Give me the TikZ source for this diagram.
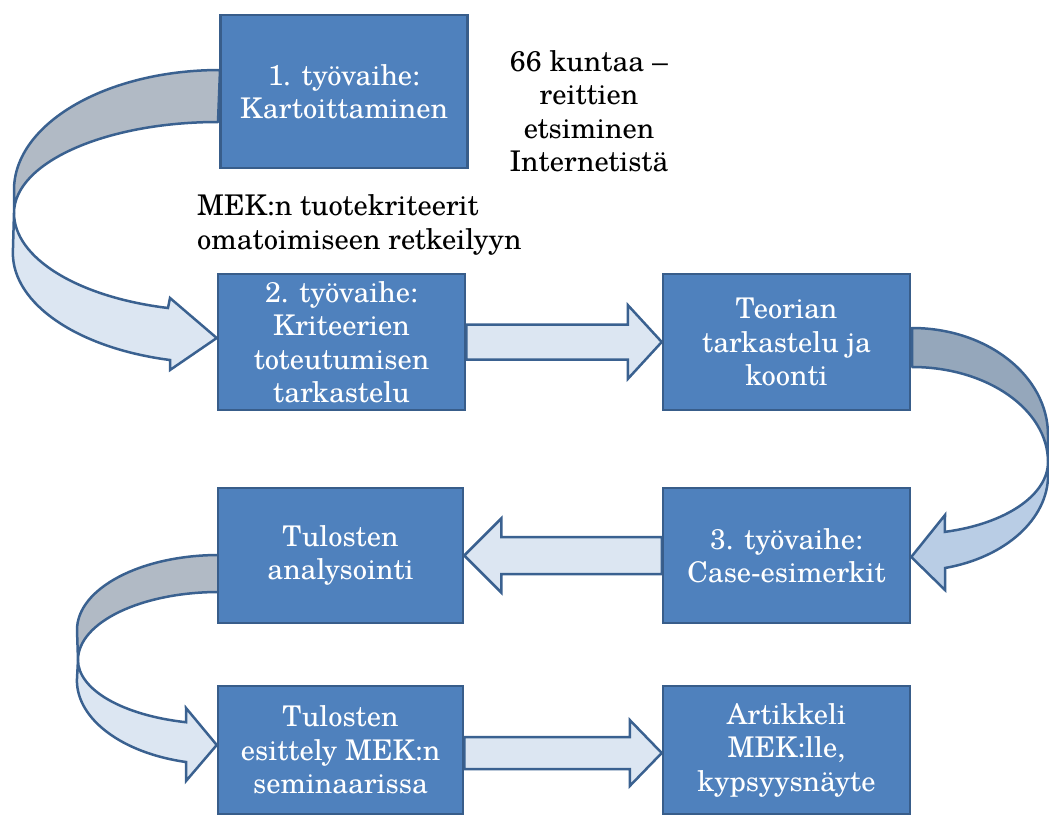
\documentclass[tikz,border=0pt]{standalone}
\usepackage{fontspec}
\setmainfont{TeX Gyre Schola}
\usetikzlibrary{calc}
\pgfdeclarelayer{bg}
\pgfsetlayers{bg,main}
\definecolor{boxfill}{HTML}{4F81BD}
\definecolor{boxline}{HTML}{385D8A}
\definecolor{arrline}{HTML}{3A6190}
\definecolor{lightfill}{HTML}{DCE6F2}
\definecolor{backgray}{HTML}{B1BAC5}
\definecolor{backdark}{HTML}{95A7BB}
\definecolor{midfill}{HTML}{B9CDE5}
\begin{document}
\begin{tikzpicture}[x=1pt,y=-1pt,
  stage/.style={draw=boxline, line width=2.5pt, fill=boxfill, text=white,
    align=center, inner sep=0pt, font=\fontsize{28.5}{33.5}\selectfont},
  note/.style={align=center, inner sep=0pt, font=\fontsize{28.5}{33.5}\selectfont},
  barrow/.style={draw=arrline, line width=2.5pt, fill=lightfill, line join=miter},
  bandback/.style={draw=arrline, line width=2.5pt, fill=backgray, line join=round},
  bandfront/.style={draw=arrline, line width=2.5pt, fill=lightfill, line join=miter}]
\useasboundingbox (0,0) rectangle (1049,816);

% boxes
\node[stage, minimum width=247pt, minimum height=153pt] (b1) at (344,91.5) {1. työvaihe:\\Kartoittaminen};
\node[stage, minimum width=247pt, minimum height=136pt] (b2) at (341.5,342) {2. työvaihe:\\Kriteerien\\toteutumisen\\tarkastelu};
\node[stage, minimum width=247pt, minimum height=136pt] (teo) at (786.5,342) {Teorian\\tarkastelu ja\\koonti};
\node[stage, minimum width=245pt, minimum height=135pt] (ana) at (340.5,555.5) {Tulosten\\analysointi};
\node[stage, minimum width=247pt, minimum height=135pt] (case) at (786.5,555.5) {3. työvaihe:\\Case-esimerkit};
\node[stage, minimum width=245pt, minimum height=128pt] (esit) at (340.5,750) {Tulosten\\esittely MEK:n\\seminaarissa};
\node[stage, minimum width=247pt, minimum height=128pt] (art) at (786.5,750) {Artikkeli\\MEK:lle,\\kypsyysnäyte};

% notes
\node[note] (n1) at (589,111) {66 kuntaa –\\reittien\\etsiminen\\Internetistä};
\node[note, align=left, anchor=west] (n2) at (197,225) {MEK:n tuotekriteerit\\omatoimiseen retkeilyyn};

\begin{pgfonlayer}{bg}
% straight block arrows
\draw[barrow] ($(b2.east)+(0,-17.5)$) -- ($(teo.west)+(-34,-17.5)$) -- ($(teo.west)+(-34,-37)$)
  -- (teo.west) -- ($(teo.west)+(-34,37)$) -- ($(teo.west)+(-34,17.5)$) -- ($(b2.east)+(0,17.5)$) -- cycle;
\draw[barrow] ($(case.west)+(0,-18.5)$) -- ($(ana.east)+(37,-18.5)$) -- ($(ana.east)+(37,-37)$)
  -- (ana.east) -- ($(ana.east)+(37,37)$) -- ($(ana.east)+(37,18.5)$) -- ($(case.west)+(0,18.5)$) -- cycle;
\draw[barrow] ($(esit.east)+(0,-13)$) -- ($(art.west)+(-32,-13)$) -- ($(art.west)+(-32,-30)$)
  -- ($(art.west)+(0,3)$) -- ($(art.west)+(-32,36)$) -- ($(art.west)+(-32,19)$) -- ($(esit.east)+(0,19)$) -- cycle;

% curved arrow b1 -> b2
\draw[bandback] (220,70) arc[start angle=-90, end angle=-180, x radius=206, y radius=120]
  -- (14,213) arc[start angle=180, end angle=270, x radius=204, y radius=91] -- cycle;
\draw[bandfront] (14,213) arc[start angle=180, end angle=104.2, x radius=204, y radius=98]
  -- (170,298) -- (b2.west |- 0,338) -- (170,370) -- (170,360)
  arc[start angle=103.5, end angle=180, x radius=205, y radius=110] -- cycle;

% curved arrow teo -> case
\draw[bandback, fill=backdark] (912,328) arc[start angle=-90, end angle=0, x radius=136, y radius=107]
  -- (1048,462) arc[start angle=0, end angle=-90, x radius=136, y radius=95] -- cycle;
\draw[bandfront, fill=midfill] (1048,462) arc[start angle=0, end angle=76, x radius=136, y radius=72]
  -- (945,515) -- (case.east |- 0,557) -- (945,590) -- (945,568)
  arc[start angle=76, end angle=0, x radius=136, y radius=96] -- cycle;

% curved arrow ana -> esit
\draw[bandback] (219,555) arc[start angle=-90, end angle=-180, x radius=142, y radius=75]
  -- (78,660) arc[start angle=180, end angle=270, x radius=141, y radius=68] -- cycle;
\draw[bandfront] (78,660) arc[start angle=180, end angle=103.5, x radius=141, y radius=64]
  -- (186,708) -- (esit.west |- 0,745) -- (186,781) -- (186,762)
  arc[start angle=103.4, end angle=180, x radius=142, y radius=84] -- cycle;
\end{pgfonlayer}
\end{tikzpicture}
\end{document}
